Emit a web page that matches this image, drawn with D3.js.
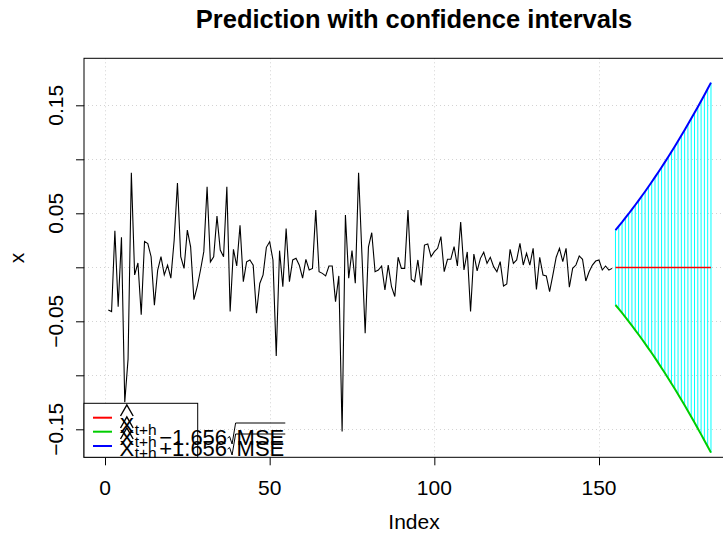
<!DOCTYPE html>
<html>
<head>
<meta charset="utf-8">
<script src="https://cdn.jsdelivr.net/npm/d3@7"></script>
<style>
  html, body { margin: 0; padding: 0; background: #fff; }
  svg { display: block; font-family: "Liberation Sans", Arial, sans-serif; }
</style>
</head>
<body>
<svg id="chart" width="723" height="537"></svg>
<script>
// ---------------- data ----------------
const title = "Prediction with confidence intervals";
const xLabel = "Index";
const yLabel = "x";
const xTicks = [0, 50, 100, 150];
const yTicks = [-0.15, -0.10, -0.05, 0, 0.05, 0.10, 0.15];
const yTickLabels = ["\u22120.15", "", "\u22120.05", "", "0.05", "", "0.15"];

// observed series, index 1..154
const observed = [
  -0.0395, -0.041, 0.0339, -0.0365, 0.0278, -0.125, -0.085, 0.0876, -0.007, 0.004,
  -0.044, 0.024, 0.022, 0.0098, -0.035, -0.0025, 0.0098, -0.007, 0.002, -0.010,
  0.025, 0.078, 0.0098, -0.001, 0.0345, 0.019, -0.030, -0.018, -0.0025, 0.0145,
  0.0746, 0.005, 0.0098, 0.0475, 0.016, 0.0098, 0.0746, -0.041, 0.0167, 0.0012,
  0.039, -0.0133, 0.005, 0.0068, 0.002, -0.0426, -0.015, -0.007, 0.0185, 0.0237,
  0.0068, -0.082, 0.0154, -0.018, 0.036, -0.0133, 0.0068, 0.0083, 0.002, -0.010,
  0.0074, -0.0025, -0.001, 0.053, -0.004, -0.0056, -0.008, 0.0012, 0.0012, -0.0318,
  -0.008, -0.152, 0.0484, -0.010, 0.0154, -0.0148, 0.0876, 0.013, -0.061, 0.019,
  0.032, -0.004, -0.0025, 0.0012, -0.021, 0.002, -0.018, -0.027, 0.0093, -0.001,
  -0.001, 0.053, -0.011, -0.0133, 0.0068, -0.0167, 0.0206, 0.0216, 0.0098, 0.0145,
  0.0176, 0.0284, -0.0041, 0.0074, 0.0074, 0.0191, 0.0012, 0.042, -0.0025, 0.0142,
  -0.041, 0.0123, -0.0034, 0.0083, 0.0139, 0.0037, 0.0093, 0.0006, -0.0041, 0.0052,
  -0.0173, -0.0155, 0.0167, 0.0037, 0.0068, 0.0222, 0.0021, 0.013, 0.0021, 0.0176,
  -0.0204, 0.0093, -0.0071, -0.008, -0.0226, -0.0071, 0.0093, 0.0176, 0.0052, 0.0176,
  -0.0185, -0.001, 0.0021, 0.0105, 0.0074, -0.0127, -0.0041, 0.0021, 0.0058, 0.0068,
  -0.0025, 0.0012, -0.0025, -0.001
];

// forecasts, index 155..184
const predicted = [
  0.0000, 0.0000, 0.0000, 0.0000, 0.0000, 0.0000, 0.0000, 0.0000, 0.0000, 0.0000,
  0.0000, 0.0000, 0.0000, 0.0000, 0.0000, 0.0000, 0.0000, 0.0000, 0.0000, 0.0000,
  0.0000, 0.0000, 0.0000, 0.0000, 0.0000, 0.0000, 0.0000, 0.0000, 0.0000, 0.0000
];
const upper = [
  0.0345, 0.0382, 0.0419, 0.0458, 0.0496, 0.0536, 0.0577, 0.0618, 0.0660, 0.0702,
  0.0746, 0.0790, 0.0835, 0.0880, 0.0927, 0.0974, 0.1021, 0.1070, 0.1119, 0.1169,
  0.1220, 0.1272, 0.1324, 0.1377, 0.1430, 0.1485, 0.1540, 0.1596, 0.1653, 0.1710
];
const lower = [
  -0.0349, -0.0386, -0.0423, -0.0461, -0.0500, -0.0540, -0.0581, -0.0622, -0.0664, -0.0707,
  -0.0750, -0.0794, -0.0839, -0.0885, -0.0932, -0.0979, -0.1027, -0.1076, -0.1125, -0.1175,
  -0.1226, -0.1278, -0.1330, -0.1383, -0.1437, -0.1492, -0.1547, -0.1603, -0.1660, -0.1716
];

const legendColors = ["#FF0000", "#00CD00", "#0000FF"];
const legendOps = [null, "\u2212", "+"];
const legendFactor = "1.656";

// ---------------- layout ----------------
const svg = d3.select("#chart");
const box = { left: 84, right: 744, top: 58.3, bottom: 457.3 };

const x = d3.scaleLinear().domain([0, 150]).range([105, 599]);
const y = d3.scaleLinear().domain([-0.15, 0.15]).range([429.3, 105.3]);

const obsData = observed.map((v, i) => ({ i: i + 1, v }));
const nObs = observed.length;
const fcData = predicted.map((p, k) => ({ i: nObs + 1 + k, p, lo: lower[k], hi: upper[k] }));

const plot = svg.append("g");
svg.append("clipPath").attr("id", "clipPlot")
  .append("rect").attr("x", box.left).attr("y", box.top)
  .attr("width", box.right - box.left).attr("height", box.bottom - box.top);

// grid
const grid = plot.append("g").attr("stroke", "#D3D3D3").attr("stroke-width", 1)
  .attr("stroke-dasharray", "1,3");
grid.selectAll("line.v").data(xTicks).join("line")
  .attr("x1", d => Math.round(x(d)) + 0.5).attr("x2", d => Math.round(x(d)) + 0.5)
  .attr("y1", box.top).attr("y2", box.bottom);
grid.selectAll("line.h").data(yTicks).join("line")
  .attr("y1", d => Math.round(y(d)) + 0.5).attr("y2", d => Math.round(y(d)) + 0.5)
  .attr("x1", box.left).attr("x2", box.right);

const marks = plot.append("g").attr("clip-path", "url(#clipPlot)");

// observed series
marks.append("path").datum(obsData)
  .attr("fill", "none").attr("stroke", "#000").attr("stroke-width", 1.1)
  .attr("d", d3.line().x(d => x(d.i)).y(d => y(d.v)));

// confidence segments
marks.append("g").selectAll("line").data(fcData).join("line")
  .attr("x1", d => x(d.i)).attr("x2", d => x(d.i))
  .attr("y1", d => y(d.lo)).attr("y2", d => y(d.hi))
  .attr("stroke", "#00FFFF").attr("stroke-width", 1);

// prediction / bounds
marks.append("path").datum(fcData)
  .attr("fill", "none").attr("stroke", legendColors[0]).attr("stroke-width", 1.5)
  .attr("d", d3.line().x(d => x(d.i)).y(d => Math.round(y(d.p)) + 0.5));
marks.append("path").datum(fcData)
  .attr("fill", "none").attr("stroke", legendColors[1]).attr("stroke-width", 2)
  .attr("d", d3.line().x(d => x(d.i)).y(d => y(d.lo)));
marks.append("path").datum(fcData)
  .attr("fill", "none").attr("stroke", legendColors[2]).attr("stroke-width", 2)
  .attr("d", d3.line().x(d => x(d.i)).y(d => y(d.hi)));

// plot box
plot.append("rect").attr("x", box.left).attr("y", box.top)
  .attr("width", box.right - box.left).attr("height", box.bottom - box.top)
  .attr("fill", "none").attr("stroke", "#000").attr("stroke-width", 1);

// axes
const xAxis = svg.append("g").attr("transform", `translate(0,${box.bottom})`)
  .call(d3.axisBottom(x).tickValues(xTicks).tickSize(8).tickSizeOuter(0).tickFormat(""));
xAxis.select(".domain").remove();
xAxis.selectAll("line").attr("stroke", "#000");
svg.append("g").selectAll("text").data(xTicks).join("text")
  .attr("x", d => x(d)).attr("y", 495).attr("text-anchor", "middle")
  .attr("font-size", 21).attr("fill", "#000").text(d => d3.format("d")(d));

const yAxis = svg.append("g").attr("transform", `translate(${box.left},0)`)
  .call(d3.axisLeft(y).tickValues(yTicks).tickSize(8).tickSizeOuter(0).tickFormat(""));
yAxis.select(".domain").remove();
yAxis.selectAll("line").attr("stroke", "#000");
svg.append("g").selectAll("text").data(yTicks).join("text")
  .attr("transform", (d) => `translate(63,${y(d)}) rotate(-90)`)
  .attr("text-anchor", "middle").attr("font-size", 21).attr("fill", "#000")
  .text((d, i) => yTickLabels[i]);

// titles
svg.append("text").attr("x", (box.left + box.right) / 2).attr("y", 28)
  .attr("text-anchor", "middle").attr("font-size", 25.5).attr("font-weight", "bold")
  .text(title);
svg.append("text").attr("x", (box.left + box.right) / 2).attr("y", 529)
  .attr("text-anchor", "middle").attr("font-size", 21).text(xLabel);
svg.append("text").attr("transform", "translate(24,258) rotate(-90)")
  .attr("text-anchor", "middle").attr("font-size", 21).text(yLabel);

// legend
const lg = svg.append("g");
lg.append("rect").attr("x", box.left).attr("y", 403.3)
  .attr("width", 197.7 - box.left).attr("height", box.bottom - 403.3)
  .attr("fill", "#fff").attr("stroke", "#000").attr("stroke-width", 1);
const lineYs = [417.7, 431.7, 446];
const baseYs = [433, 445, 456];
legendColors.forEach((c, i) => {
  lg.append("line").attr("x1", 93).attr("x2", 112).attr("y1", lineYs[i]).attr("y2", lineYs[i])
    .attr("stroke", c).attr("stroke-width", 2);
  const by = baseYs[i];
  let cx = 119.5;
  const tX = lg.append("text").attr("x", cx).attr("y", by).attr("font-size", 22).text("X");
  const wX = tX.node().getComputedTextLength();
  // hat
  lg.append("path")
    .attr("d", `M${cx + 1},${by - 17} L${cx + wX / 2},${by - 28} L${cx + wX - 1},${by - 17}`)
    .attr("fill", "none").attr("stroke", "#000").attr("stroke-width", 1.4);
  cx += wX + 0.5;
  const tS = lg.append("text").attr("x", cx).attr("y", by + 2).attr("font-size", 15.5).text("t+h");
  cx += tS.node().getComputedTextLength();
  if (legendOps[i]) {
    cx += 2.5;
    const tO = lg.append("text").attr("x", cx).attr("y", by).attr("font-size", 22).text(legendOps[i]);
    cx += tO.node().getComputedTextLength();
    const tF = lg.append("text").attr("x", cx).attr("y", by).attr("font-size", 22).text(legendFactor);
    cx += tF.node().getComputedTextLength() + 0.5;
    // radical sign with overline
    const r0 = cx;
    const tM0 = r0 + 9;
    const mse = lg.append("text").attr("x", tM0).attr("y", by).attr("font-size", 22).text("MSE");
    const wM = mse.node().getComputedTextLength();
    lg.append("path")
      .attr("d", `M${r0},${by - 7} L${r0 + 2},${by - 8.5} L${r0 + 4.5},${by - 1} L${r0 + 8},${by - 22} L${tM0 + wM + 1},${by - 22}`)
      .attr("fill", "none").attr("stroke", "#000").attr("stroke-width", 1);
  }
});
</script>
</body>
</html>
